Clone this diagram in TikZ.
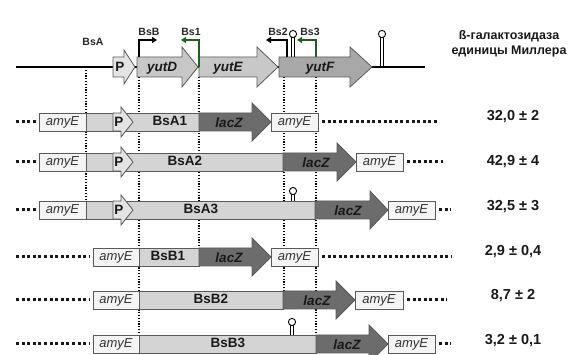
\documentclass[tikz,border=0pt]{standalone}
\usepackage{fontspec}
\setmainfont{Liberation Sans}
\usetikzlibrary{arrows.meta}
\definecolor{bord}{HTML}{5A5A5A}
\definecolor{amyc}{HTML}{F4F4F4}
\definecolor{greyc}{HTML}{D4D4D4}
\definecolor{pc}{HTML}{E4E4E4}
\definecolor{lacc}{HTML}{6C6C6C}
\definecolor{yutc}{HTML}{C8C8C8}
\definecolor{yutfc}{HTML}{A8A8A8}
\definecolor{promg}{HTML}{1F5F1F}
% #1 fill, #2 x1, #3 xh, #4 xt, #5 yc, #6 body half height, #7 head half height
\newcommand\garr[7]{%
  \filldraw[bx, fill=#1] (#2,#5-#6) -- (#3,#5-#6) -- (#3,#5-#7) -- (#4,#5)
    -- (#3,#5+#7) -- (#3,#5+#6) -- (#2,#5+#6) -- cycle;}
% #1 x, #2 circle centre y, #3 base y
\newcommand\hairpin[3]{%
  \draw[line width=0.9pt] (#1-1.4,#2+3) -- (#1-1.4,#3) (#1+1.4,#2+3) -- (#1+1.4,#3);
  \filldraw[fill=white, line width=0.9pt] (#1,#2) circle (3.6pt);}
\begin{document}
\begin{tikzpicture}[x=1pt,y=-1pt,
  bx/.style={draw=bord, line width=0.8pt},
  vdot/.style={line width=1.2pt, dash pattern=on 1.2pt off 1.6pt, black},
  hdot/.style={line width=3pt, dash pattern=on 3pt off 2.6pt, black!90},
  lbl/.style={font=\fontsize{13.5}{14}\selectfont\bfseries, text=black!90, inner sep=0},
  glbl/.style={font=\fontsize{13.5}{14}\selectfont\bfseries\itshape, text=black!90, inner sep=0},
  amy/.style={font=\fontsize{13}{14}\selectfont\itshape, text=black!80, inner sep=0},
  small/.style={font=\fontsize{10.5}{12}\selectfont\bfseries, text=black!85, inner sep=0},
  val/.style={font=\fontsize{14.5}{16}\selectfont\bfseries, text=black!90, inner sep=0},
  prom/.style={line width=1.4pt, -{Triangle[length=5pt,width=6pt]}},
]
\useasboundingbox (0,0) rectangle (574,355);

% vertical dotted guide lines
\draw[vdot] (86,67) -- (86,210);
\draw[vdot] (139,77) -- (139,344);
\draw[vdot] (199,77) -- (199,257);
\draw[vdot] (284,77) -- (284,300);
\draw[vdot] (316,77) -- (316,344);

% ---------------- top: genomic region ----------------
\draw[line width=2.8pt] (16,67) -- (425,67);
\garr{pc}{113}{124}{135}{67}{10}{17}
\node[lbl] (ptop) at (120,67) {P};
\garr{yutc}{137}{182}{198}{67}{10}{20}
\node[glbl] (yutD) at (162,68) {yutD};
\garr{yutc}{199}{257}{278}{67}{10}{20}
\node[glbl] (yutE) at (228,68) {yutE};
\garr{yutfc}{279}{350}{372}{67}{10}{20}
\node[glbl] (yutF) at (320,68) {yutF};

\draw[prom] (139,57) -- (139,40) -- (157,40);
\draw[prom, promg] (199,67) -- (199,40) -- (181,40);
\draw[prom] (287,57) -- (287,40) -- (266,40);
\draw[prom, promg] (316,57) -- (316,40) -- (297,40);
\hairpin{293}{34}{57}
\hairpin{382}{34}{66}

\node[small] (lBsA) at (93,42) {BsA};
\node[small] (lBsB) at (149,32) {BsB};
\node[small] (lBs1) at (191,32) {Bs1};
\node[small] (lBs2) at (278,32) {Bs2};
\node[small] (lBs3) at (310,32) {Bs3};

\node[font=\fontsize{12.5}{14.5}\selectfont\bfseries, text=black!90, align=center, inner sep=0] (title) at (509,44) {ß-галактозидаза\\единицы Миллера};

% ---------------- row 1: BsA1 ----------------
\draw[hdot] (16,122) -- (37,122);
\filldraw[bx, fill=amyc] (39,113) rectangle (86,131);
\node[amy] (a1l) at (62.5,122) {amyE};
\filldraw[bx, fill=greyc] (86,113) rectangle (199,131);
\garr{pc}{113}{121}{133}{122}{9}{15}
\node[lbl] (p1) at (119,122) {P};
\node[lbl] (r1) at (170,121) {BsA1};
\garr{lacc}{199}{252}{271}{122}{9}{19}
\node[glbl] (z1) at (229,123) {lacZ};
\filldraw[bx, fill=amyc] (271,113) rectangle (318,131);
\node[amy] (a1r) at (294.5,122) {amyE};
\draw[hdot] (322,122) -- (438,122);
\node[val] (v1) at (513,117) {32,0 ± 2};

% ---------------- row 2: BsA2 ----------------
\draw[hdot] (16,162) -- (37,162);
\filldraw[bx, fill=amyc] (39,153) rectangle (86,171);
\node[amy] (a2l) at (62.5,162) {amyE};
\filldraw[bx, fill=greyc] (86,153) rectangle (283,171);
\garr{pc}{113}{121}{133}{162}{9}{15}
\node[lbl] (p2) at (119,162) {P};
\node[lbl] (r2) at (185,161) {BsA2};
\garr{lacc}{283}{337}{356}{162}{9}{19}
\node[glbl] (z2) at (316,163) {lacZ};
\filldraw[bx, fill=amyc] (356,153) rectangle (403,171);
\node[amy] (a2r) at (379.5,162) {amyE};
\draw[hdot] (407,162) -- (443,162);
\node[val] (v2) at (513,162) {42,9 ± 4};

% ---------------- row 3: BsA3 ----------------
\draw[hdot] (16,210) -- (37,210);
\filldraw[bx, fill=amyc] (39,201) rectangle (86,219);
\node[amy] (a3l) at (62.5,210) {amyE};
\filldraw[bx, fill=greyc] (86,201) rectangle (315,219);
\garr{pc}{113}{121}{133}{210}{9}{15}
\node[lbl] (p3) at (119,210) {P};
\node[lbl] (r3) at (201,209) {BsA3};
\hairpin{293}{191}{201}
\garr{lacc}{315}{370}{388}{210}{9}{19}
\node[glbl] (z3) at (348,211) {lacZ};
\filldraw[bx, fill=amyc] (388,201) rectangle (435,219);
\node[amy] (a3r) at (411.5,210) {amyE};
\draw[hdot] (439,210) -- (451,210);
\node[val] (v3) at (513,207) {32,5 ± 3};

% ---------------- row 4: BsB1 ----------------
\draw[hdot] (16,257) -- (90,257);
\filldraw[bx, fill=amyc] (93,248) rectangle (139,266);
\node[amy] (a4l) at (116,257) {amyE};
\filldraw[bx, fill=greyc] (139,248) rectangle (199,266);
\node[lbl] (r4) at (168,256) {BsB1};
\garr{lacc}{199}{252}{271}{257}{9}{19}
\node[glbl] (z4) at (229,258) {lacZ};
\filldraw[bx, fill=amyc] (271,248) rectangle (318,266);
\node[amy] (a4r) at (294.5,257) {amyE};
\draw[hdot] (322,257) -- (452,257);
\node[val] (v4) at (513,252) {2,9 ± 0,4};

% ---------------- row 5: BsB2 ----------------
\draw[hdot] (16,300) -- (90,300);
\filldraw[bx, fill=amyc] (93,291) rectangle (139,309);
\node[amy] (a5l) at (116,300) {amyE};
\filldraw[bx, fill=greyc] (139,291) rectangle (283,309);
\node[lbl] (r5) at (211,299) {BsB2};
\garr{lacc}{283}{336}{355}{300}{9}{19}
\node[glbl] (z5) at (317,301) {lacZ};
\filldraw[bx, fill=amyc] (355,291) rectangle (403,309);
\node[amy] (a5r) at (379,300) {amyE};
\draw[hdot] (407,300) -- (447,300);
\node[val] (v5) at (513,296) {8,7 ± 2};

% ---------------- row 6: BsB3 ----------------
\draw[hdot] (16,344) -- (90,344);
\filldraw[bx, fill=amyc] (93,335) rectangle (139,353);
\node[amy] (a6l) at (116,344) {amyE};
\filldraw[bx, fill=greyc] (139,335) rectangle (316,353);
\node[lbl] (r6) at (228,343) {BsB3};
\hairpin{292}{322}{335}
\garr{lacc}{316}{369}{388}{344}{9}{19}
\node[glbl] (z6) at (347,345) {lacZ};
\filldraw[bx, fill=amyc] (388,335) rectangle (435,353);
\node[amy] (a6r) at (411.5,344) {amyE};
\draw[hdot] (439,344) -- (451,344);
\node[val] (v6) at (513,341) {3,2 ± 0,1};
\end{tikzpicture}
\end{document}
